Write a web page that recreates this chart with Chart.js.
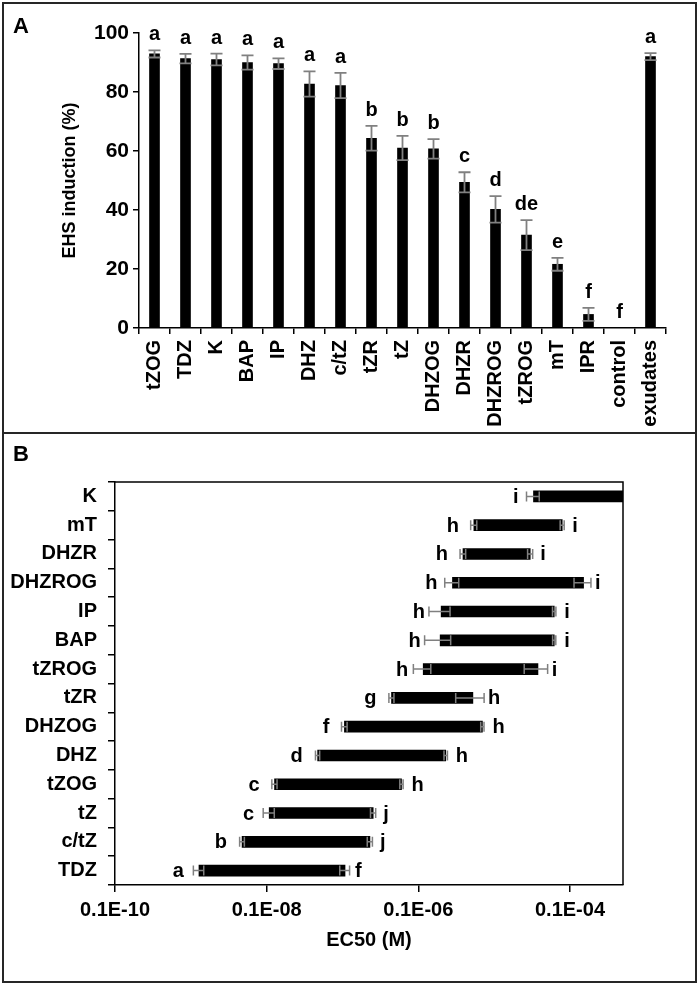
<!DOCTYPE html>
<html>
<head>
<meta charset="utf-8">
<script src="https://cdn.jsdelivr.net/npm/chart.js@4.4.0/dist/chart.umd.min.js"></script>
<style>
  body { margin: 0; background: #fff; }
  #wrap { position: relative; width: 700px; height: 985px; }
  canvas { position: absolute; left: 0; }
  .frame { position: absolute; border: 2px solid #262626; }
  .tag { position: absolute; font: bold 22px "Liberation Sans", Arial, sans-serif; color: #000; }
</style>
</head>
<body>
<div id="wrap">
  <canvas id="chartA" width="700" height="434" style="top:0"></canvas>
  <canvas id="chartB" width="700" height="551" style="top:434px"></canvas>
  <div class="frame" style="left:2px;top:2px;width:691px;height:428px"></div>
  <div class="frame" style="left:2px;top:432px;width:691px;height:547px"></div>
  <div class="tag" style="left:13px;top:13px">A</div>
  <div class="tag" style="left:13px;top:441px">B</div>
</div>
<script>
// panel A data
const catsA = ['tZOG', 'TDZ', 'K', 'BAP', 'IP', 'DHZ', 'c/tZ', 'tZR', 'tZ', 'DHZOG', 'DHZR', 'DHZROG', 'tZROG', 'mT', 'IPR', 'control', 'exudates'];
const ehs = [92.9, 91.3, 91.0, 90.0, 89.6, 82.7, 82.2, 64.3, 61.0, 60.7, 49.4, 40.2, 31.5, 21.6, 4.6, 0, 92.0];
const ehsErr = [1.2, 1.6, 2.0, 2.4, 1.8, 4.3, 4.3, 4.2, 4.1, 3.3, 3.4, 4.5, 5.1, 2.2, 2.2, 0, 1.2];
const lettersA = ['a', 'a', 'a', 'a', 'a', 'a', 'a', 'b', 'b', 'b', 'c', 'd', 'de', 'e', 'f', 'f', 'a'];
const yTicksA = [0, 20, 40, 60, 80, 100];

// panel B data (EC50 range, molar)
const catsB = ['K', 'mT', 'DHZR', 'DHZROG', 'IP', 'BAP', 'tZROG', 'tZR', 'DHZOG', 'DHZ', 'tZOG', 'tZ', 'c/tZ', 'TDZ'];
const ecLow = [3.30e-6, 5.40e-7, 3.88e-7, 2.82e-7, 2.0e-7, 1.94e-7, 1.16e-7, 4.43e-8, 1.06e-8, 4.7e-9, 1.27e-9, 1.08e-9, 4.74e-10, 1.28e-10];
const ecLowErr = [0.63e-6, 0.50e-7, 0.33e-7, 0.59e-7, 0.62e-7, 0.73e-7, 0.30e-7, 0.34e-8, 0.09e-8, 0.3e-9, 0.1e-9, 0.18e-9, 0.34e-10, 0.2e-10];
const ecHigh = [1.2e-4, 7.9e-6, 2.99e-6, 1.51e-5, 6.2e-6, 6.2e-6, 3.78e-6, 5.24e-7, 7.0e-7, 2.3e-7, 6.0e-8, 2.54e-8, 2.3e-8, 1.08e-8];
const ecHighErr = [0, 0.48e-6, 0.23e-6, 0.38e-5, 0.32e-6, 0.3e-6, 1.29e-6, 2.13e-7, 0.35e-7, 0.12e-7, 0.3e-8, 0.2e-8, 0.18e-8, 0.16e-8];
const lettersLow = ['i', 'h', 'h', 'h', 'h', 'h', 'h', 'g', 'f', 'd', 'c', 'c', 'b', 'a'];
const lettersHigh = ['', 'i', 'i', 'i', 'i', 'i', 'i', 'h', 'h', 'h', 'h', 'j', 'j', 'f'];
const xTicksB = [1e-11, 1e-9, 1e-7, 1e-5];
const xTickLabelsB = ['0.1E-10', '0.1E-08', '0.1E-06', '0.1E-04'];

const FAMILY = '"Liberation Sans", Arial, sans-serif';
const ERR_COLOR = '#808080';
const fnt = (size) => ({ family: FAMILY, size: size, weight: 'bold' });

// error bars + letters for the column chart
const errBarsA = {
  id: 'errBarsA',
  afterDatasetsDraw(chart) {
    const ctx = chart.ctx;
    const xs = chart.scales.x, ys = chart.scales.y;
    ctx.save();
    ehs.forEach((v, i) => {
      const x = xs.getPixelForValue(i);
      const top = ys.getPixelForValue(v + ehsErr[i]);
      const bot = ys.getPixelForValue(v - ehsErr[i]);
      if (ehsErr[i] > 0) {
        ctx.strokeStyle = ERR_COLOR;
        ctx.lineWidth = 1.8;
        ctx.beginPath();
        ctx.moveTo(x, top); ctx.lineTo(x, bot);
        ctx.moveTo(x - 6, top); ctx.lineTo(x + 6, top);
        ctx.moveTo(x - 6, bot); ctx.lineTo(x + 6, bot);
        ctx.stroke();
      }
      ctx.fillStyle = '#000';
      ctx.font = 'bold 20px ' + FAMILY;
      ctx.textAlign = 'center';
      ctx.textBaseline = 'alphabetic';
      ctx.fillText(lettersA[i], x, top - 10);
    });
    ctx.restore();
  }
};

// error bars at both ends of each range bar + letters, plot frame
const errBarsB = {
  id: 'errBarsB',
  afterDatasetsDraw(chart) {
    const ctx = chart.ctx;
    const xs = chart.scales.x, ys = chart.scales.y;
    const area = chart.chartArea;
    ctx.save();
    ctx.strokeStyle = '#000';
    ctx.lineWidth = 1.5;
    ctx.beginPath();
    ctx.moveTo(area.left, area.top); ctx.lineTo(area.right, area.top); ctx.lineTo(area.right, area.bottom);
    ctx.stroke();

    catsB.forEach((c, i) => {
      const y = ys.getPixelForValue(i);
      const ends = [[ecLow[i], ecLowErr[i]], [ecHigh[i], ecHighErr[i]]];
      ctx.strokeStyle = ERR_COLOR;
      ctx.lineWidth = 1.5;
      ends.forEach(([v, e]) => {
        if (e <= 0) return;
        const x1 = xs.getPixelForValue(v - e);
        const x2 = Math.min(xs.getPixelForValue(v + e), area.right);
        ctx.beginPath();
        ctx.moveTo(x1, y); ctx.lineTo(x2, y);
        ctx.moveTo(x1, y - 5); ctx.lineTo(x1, y + 5);
        ctx.moveTo(x2, y - 5); ctx.lineTo(x2, y + 5);
        ctx.stroke();
      });
      ctx.fillStyle = '#000';
      ctx.font = 'bold 20px ' + FAMILY;
      ctx.textBaseline = 'middle';
      const xs0 = xs.getPixelForValue(ecLow[i]);
      const xl = Math.min(xs0 - 15, xs.getPixelForValue(ecLow[i] - ecLowErr[i]) - 4);
      ctx.textAlign = 'right';
      ctx.fillText(lettersLow[i], xl, y + 1);
      if (lettersHigh[i]) {
        const xt = xs.getPixelForValue(ecHigh[i]);
        const xr = Math.max(xt + 10, xs.getPixelForValue(ecHigh[i] + ecHighErr[i]) + 4);
        ctx.textAlign = 'left';
        ctx.fillText(lettersHigh[i], xr, y + 1);
      }
    });
    ctx.restore();
  }
};

new Chart(document.getElementById('chartA'), {
  type: 'bar',
  data: {
    labels: catsA,
    datasets: [{ data: ehs, backgroundColor: '#000', barThickness: 10 }]
  },
  options: {
    responsive: false,
    animation: false,
    layout: { padding: { left: 59, top: 33, right: 34, bottom: 0 } },
    plugins: { legend: { display: false }, tooltip: { enabled: false } },
    scales: {
      x: {
        grid: { display: true, drawOnChartArea: false, tickLength: 6, color: '#000', lineWidth: 1.5, offset: true },
        border: { color: '#000', width: 1.5 },
        ticks: { color: '#000', font: fnt(20), minRotation: 90, maxRotation: 90, autoSkip: false, padding: 6 },
        afterFit: (s) => { s.height = 434 - 328; }
      },
      y: {
        min: 0,
        max: 100,
        afterBuildTicks: (s) => { s.ticks = yTicksA.map(v => ({ value: v })); },
        grid: { display: true, drawOnChartArea: false, tickLength: 6, color: '#000', lineWidth: 1.5 },
        border: { color: '#000', width: 1.5 },
        ticks: { color: '#000', font: fnt(21), padding: 4 },
        title: { display: true, text: 'EHS induction (%)', color: '#000', font: fnt(18), padding: 0 },
        afterFit: (s) => { s.width = 139 - 59; }
      }
    }
  },
  plugins: [errBarsA]
});

new Chart(document.getElementById('chartB'), {
  type: 'bar',
  data: {
    labels: catsB,
    datasets: [{ data: catsB.map((c, i) => [ecLow[i], ecHigh[i]]), backgroundColor: '#000', barThickness: 11 }]
  },
  options: {
    indexAxis: 'y',
    responsive: false,
    animation: false,
    layout: { padding: { left: 0, top: 48, right: 77, bottom: 33 } },
    plugins: { legend: { display: false }, tooltip: { enabled: false } },
    scales: {
      x: {
        type: 'logarithmic',
        min: 1e-11,
        max: 5e-5,
        afterBuildTicks: (s) => { s.ticks = xTicksB.map(v => ({ value: v })); },
        grid: { display: true, drawOnChartArea: false, tickLength: 7, color: '#000', lineWidth: 1.5 },
        border: { color: '#000', width: 1.5 },
        ticks: { color: '#000', font: fnt(20), padding: 6, maxRotation: 0, callback: (v, i) => xTickLabelsB[i] },
        title: { display: true, text: 'EC50 (M)', color: '#000', font: fnt(20), padding: 0 },
        afterFit: (s) => { s.height = 551 - 33 - 451; }
      },
      y: {
        grid: { display: true, drawOnChartArea: false, tickLength: 7, color: '#000', lineWidth: 1.5, offset: true },
        border: { color: '#000', width: 1.5 },
        ticks: { color: '#000', font: fnt(20), padding: 11, autoSkip: false },
        afterFit: (s) => { s.width = 115; }
      }
    }
  },
  plugins: [errBarsB]
});
</script>
</body>
</html>
